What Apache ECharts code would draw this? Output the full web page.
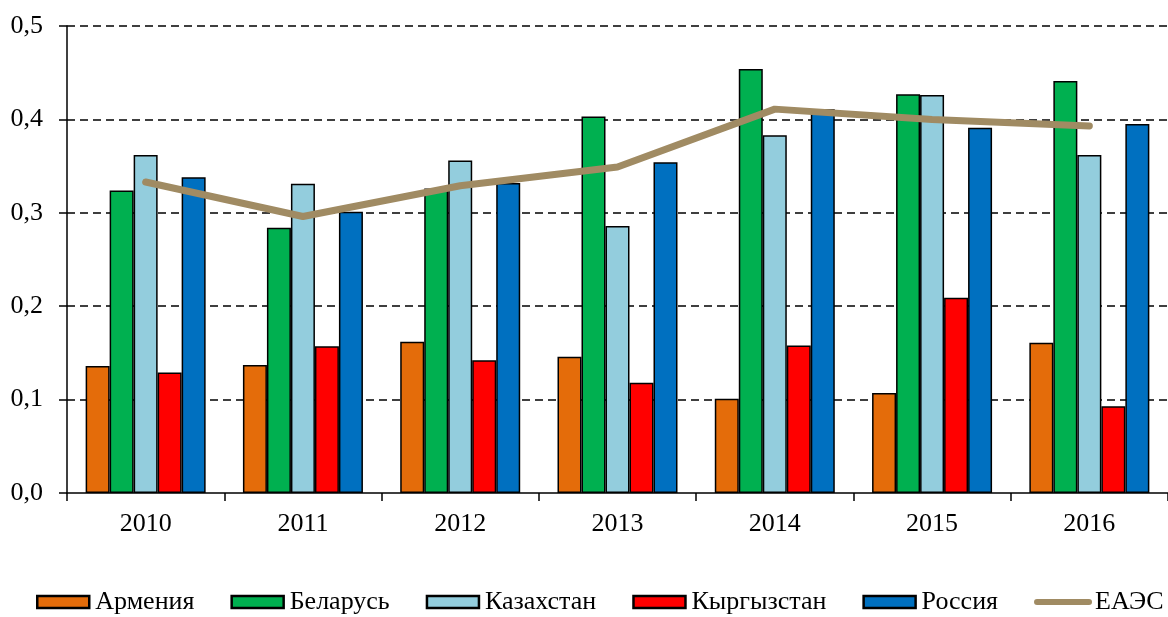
<!DOCTYPE html>
<html>
<head>
<meta charset="utf-8">
<script src="https://cdn.jsdelivr.net/npm/echarts@6/dist/echarts.min.js"></script>
<style>
  html, body { margin: 0; padding: 0; background: #fff; }
  #demo { width: 1168px; height: 617px; }
</style>
</head>
<body>
<div id="demo"></div>
<script>
// данные
var years = ['2010', '2011', '2012', '2013', '2014', '2015', '2016'];
var armenia    = [0.136, 0.137, 0.162, 0.146, 0.101, 0.107, 0.161];
var belarus    = [0.324, 0.284, 0.326, 0.403, 0.454, 0.427, 0.441];
var kazakhstan = [0.362, 0.331, 0.356, 0.286, 0.383, 0.426, 0.362];
var kyrgyzstan = [0.129, 0.157, 0.142, 0.118, 0.158, 0.209, 0.093];
var russia     = [0.338, 0.301, 0.332, 0.354, 0.411, 0.391, 0.395];
var eaeu       = [0.333, 0.296, 0.329, 0.349, 0.411, 0.400, 0.393];
var yTicks = [0, 0.1, 0.2, 0.3, 0.4, 0.5];

var names  = ['Армения', 'Беларусь', 'Казахстан', 'Кыргызстан', 'Россия', 'ЕАЭС'];
var colors = ['#E46C0A', '#00B050', '#93CDDD', '#FF0000', '#0070C0', '#A08B63'];

var font = 'Liberation Serif, Times New Roman, serif';
var lineColor = colors[5];

function barSeries(i, data) {
    return {
        name: names[i],
        type: 'bar',
        data: data,
        barWidth: 24,
        barGap: '0%',
        itemStyle: { color: colors[i], borderColor: '#000', borderWidth: 1.5 },
        emphasis: { disabled: true }
    };
}

var legendData = [];
for (var i = 0; i < names.length; i++) {
    if (i < 5) {
        legendData.push({ name: names[i], icon: 'rect' });
    } else {
        legendData.push({
            name: names[i],
            itemStyle: { opacity: 0, borderWidth: 0 },
            lineStyle: { color: lineColor, width: 6, cap: 'round' }
        });
    }
}

var chartDom = document.getElementById('demo');
var myChart = echarts.init(chartDom);
var option;
option = {
    animation: false,
    textStyle: { fontFamily: font, color: '#000' },
    grid: { left: 67, top: 26, width: 1108, height: 467 },
    legend: {
        left: 36,
        top: 589,
        padding: 0,
        itemWidth: 52,
        itemHeight: 12,
        itemGap: 36,
        selectedMode: false,
        itemStyle: { borderColor: '#000', borderWidth: 2.5, borderType: 'solid' },
        textStyle: { fontFamily: font, fontSize: 26, color: '#000', padding: [0, 0, 0, 1] },
        data: legendData
    },
    xAxis: {
        type: 'category',
        data: years,
        axisLine: { lineStyle: { color: '#000', width: 1.5 } },
        axisTick: { show: true, length: 8, interval: 0, lineStyle: { color: '#000', width: 1.5 } },
        axisLabel: { fontFamily: font, fontSize: 26, color: '#000', margin: 18 }
    },
    yAxis: {
        type: 'value',
        min: yTicks[0],
        max: yTicks[yTicks.length - 1],
        interval: 0.1,
        axisLine: { show: true, lineStyle: { color: '#000', width: 1.5 } },
        axisTick: { show: true, length: 8, lineStyle: { color: '#000', width: 1.5 } },
        axisLabel: {
            fontFamily: font, fontSize: 26, color: '#000', margin: 24,
            formatter: function (v) { return v.toFixed(1).replace('.', ','); }
        },
        splitLine: {
            show: true,
            showMinLine: false,
            lineStyle: { color: '#000', width: 1.5, type: [8, 5] }
        }
    },
    series: [
        barSeries(0, armenia),
        barSeries(1, belarus),
        barSeries(2, kazakhstan),
        barSeries(3, kyrgyzstan),
        barSeries(4, russia),
        {
            name: names[5],
            type: 'line',
            data: eaeu,
            symbol: 'none',
            z: 5,
            lineStyle: { color: lineColor, width: 7, cap: 'round', join: 'round' },
            itemStyle: { color: lineColor },
            emphasis: { disabled: true }
        }
    ]
};
option && myChart.setOption(option);
</script>
</body>
</html>
